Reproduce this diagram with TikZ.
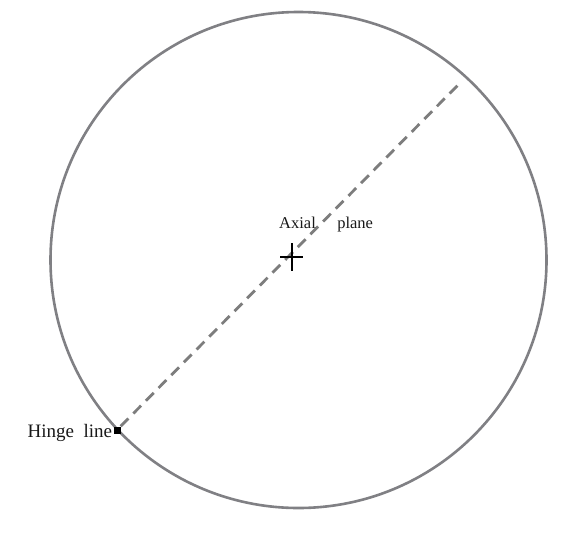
\documentclass[tikz,border=0pt]{standalone}
\usepackage{fontspec}
\setmainfont{Liberation Serif}
\usetikzlibrary{positioning,calc}

\definecolor{rimgray}{RGB}{128,128,132}
\definecolor{inkgray}{RGB}{125,125,125}

\tikzset{
  rim/.style={draw=rimgray,line width=2.6pt},
  axisline/.style={draw=inkgray,line width=2.8pt,dash pattern=on 11pt off 7pt},
  hingemark/.style={fill=black,inner sep=0pt,minimum size=7pt},
  lbl/.style={font=\fontsize{16.5}{20}\selectfont,inner sep=0pt,text=black!90}
}

\begin{document}
\begin{tikzpicture}[x=1pt,y=-1pt]
 \useasboundingbox[fill=white] (0,0) rectangle (561,533);
 % circle of the projection
 \coordinate (o) at (298.5,260);
 \draw[rim] (o) circle (248);
 % axial plane trace
 \node[hingemark] (hinge) at (117,430) {};
 \coordinate (top) at (458,85);
 \draw[axisline] (hinge) -- (top);
 % centre cross
 \coordinate (c) at (292,257);
 \draw[line width=1.4pt] ($(c)+(-12,0)$) -- ($(c)+(11,0)$);
 \draw[line width=1.4pt] ($(c)+(0,-14)$) -- ($(c)+(0,14)$);
 % labels
 \node[lbl,anchor=base west] (axial) at (279,228) {Axial\hspace{1.3em}plane};
 \node[lbl,font=\fontsize{19}{22}\selectfont,anchor=base east] (hingelbl) at ($(hinge.west)+(-1,7)$) {Hinge\hspace{0.5em}line};
\end{tikzpicture}
\end{document}
